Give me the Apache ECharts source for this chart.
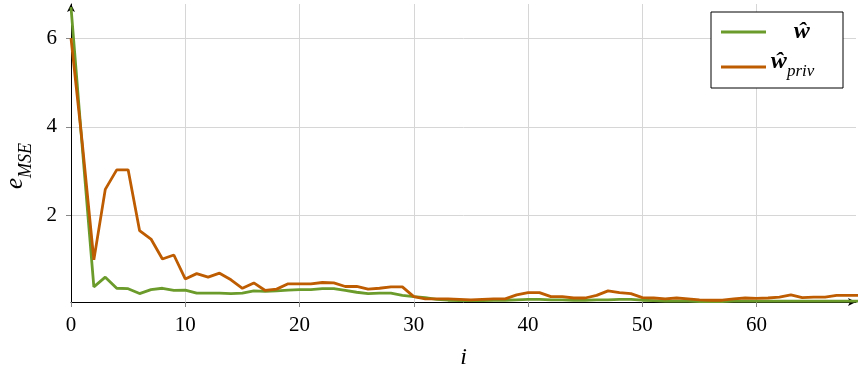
<!DOCTYPE html>
<html>
<head>
<meta charset="utf-8">
<script src="https://cdn.jsdelivr.net/npm/echarts@6/dist/echarts.min.js"></script>
<style>
html,body{margin:0;padding:0;background:#fff;}
#c{width:858px;height:376px;}
</style>
</head>
<body>
<div id="c"></div>
<script>
var wHat = [6.7,3.5,0.39,0.61,0.36,0.35,0.24,0.33,0.36,0.31,
  0.32,0.25,0.25,0.25,0.24,0.25,0.30,0.29,0.30,0.32,
  0.33,0.33,0.35,0.35,0.31,0.27,0.24,0.25,0.25,0.20,
  0.17,0.15,0.11,0.09,0.08,0.08,0.08,0.09,0.09,0.10,
  0.11,0.11,0.10,0.10,0.09,0.09,0.10,0.10,0.11,0.11,
  0.09,0.08,0.07,0.07,0.07,0.06,0.06,0.06,0.07,0.07,
  0.07,0.07,0.07,0.07,0.07,0.07,0.07,0.07,0.07,0.07];
var wPriv = [6.0,3.6,1.0,2.59,3.03,3.03,1.66,1.47,1.02,1.11,
  0.57,0.69,0.61,0.70,0.55,0.36,0.48,0.31,0.34,0.46,
  0.46,0.46,0.49,0.48,0.40,0.40,0.34,0.36,0.39,0.39,
  0.17,0.12,0.12,0.12,0.11,0.10,0.11,0.12,0.12,0.21,
  0.26,0.26,0.17,0.17,0.14,0.14,0.20,0.30,0.26,0.24,
  0.15,0.14,0.12,0.14,0.12,0.10,0.09,0.09,0.12,0.14,
  0.13,0.14,0.16,0.21,0.15,0.16,0.16,0.20,0.20,0.20];
var xTicks = [0,10,20,30,40,50,60];
var yTicks = [2,4,6];
var seriesNames = ['w', 'wp'];

var FONT = 'Liberation Serif';
function pairs(arr){ return arr.map(function(v,i){ return [i, v]; }); }

var chart = echarts.init(document.getElementById('c'), null, {renderer:'canvas'});
chart.setOption({
  animation:false,
  backgroundColor:'#fff',
  grid:{left:71, right:2, top:4, bottom:74, containLabel:false, outerBoundsMode:'none'},
  legend:{
    orient:'vertical', right:15, top:12,
    backgroundColor:'#fff', borderColor:'#000', borderWidth:1, borderRadius:0,
    padding:[8,10,8,10], itemWidth:45, itemHeight:3, itemGap:6, icon:'rect',
    data:seriesNames,
    formatter:function(n){ return n==='w' ? '{c|ŵ}' : '{b|ŵ}{s|priv}'; },
    textStyle:{
      fontFamily:FONT, color:'#000', padding:[0,0,0,0],
      rich:{
        c:{fontFamily:FONT, fontSize:24, fontWeight:'bold', fontStyle:'italic', width:62, align:'center', lineHeight:26},
        b:{fontFamily:FONT, fontSize:24, fontWeight:'bold', fontStyle:'italic', lineHeight:26, padding:[0,0,6,0], verticalAlign:'bottom'},
        s:{fontFamily:FONT, fontSize:17, fontStyle:'italic', lineHeight:26, verticalAlign:'bottom'}
      }
    }
  },
  xAxis:{
    type:'value', min:0, max:68.7,
    name:'i', nameLocation:'middle', nameGap:44,
    nameTextStyle:{fontFamily:FONT, fontSize:24, fontStyle:'italic', color:'#000'},
    axisLine:{show:true, onZero:false, lineStyle:{color:'#000', width:1}, symbol:['none','arrow'], symbolSize:[6,8]},
    axisTick:{show:true, length:5, lineStyle:{color:'#888'}, customValues:xTicks},
    axisLabel:{fontFamily:FONT, fontSize:21, color:'#000', margin:13, customValues:xTicks},
    splitLine:{show:true, lineStyle:{color:'#d6d6d6', width:1}}
  },
  yAxis:{
    type:'value', min:0.05, max:6.77,
    name:'{e|e}{s|MSE}', nameLocation:'middle', nameGap:36,
    nameTextStyle:{fontFamily:FONT, color:'#000', padding:[0,26,0,0],
      rich:{
        e:{fontFamily:FONT, fontSize:25, fontStyle:'italic', padding:[0,0,7,0], verticalAlign:'bottom', lineHeight:30},
        s:{fontFamily:FONT, fontSize:18, fontStyle:'italic', verticalAlign:'bottom', lineHeight:30}
      }},
    axisLine:{show:true, onZero:false, lineStyle:{color:'#000', width:1}, symbol:['none','arrow'], symbolSize:[6,8]},
    axisTick:{show:true, length:5, lineStyle:{color:'#888'}, customValues:yTicks},
    axisLabel:{fontFamily:FONT, fontSize:21, color:'#000', margin:14, customValues:yTicks},
    splitLine:{show:true, lineStyle:{color:'#d6d6d6', width:1}}
  },
  series:[
    {name:'w', type:'line', data:pairs(wHat), symbol:'none', clip:true,
     lineStyle:{color:'#6b9b2b', width:2.8}, itemStyle:{color:'#6b9b2b'}},
    {name:'wp', type:'line', data:pairs(wPriv), symbol:'none', clip:true,
     lineStyle:{color:'#bd5c00', width:2.8}, itemStyle:{color:'#bd5c00'}}
  ]
});
</script>
</body>
</html>
